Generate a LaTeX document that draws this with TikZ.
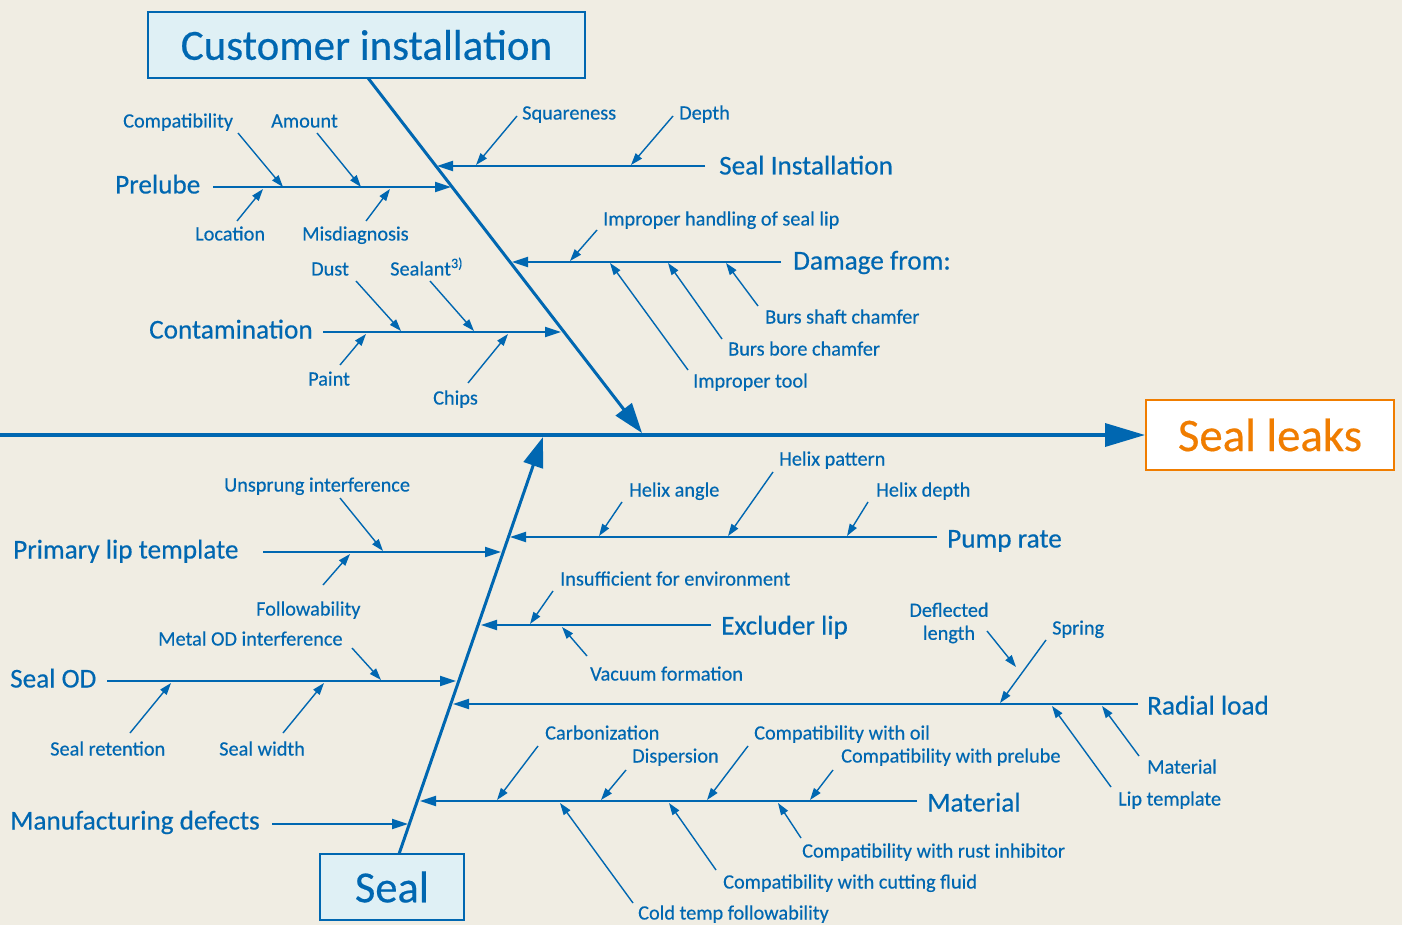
\documentclass[tikz,border=0pt]{standalone}
\usepackage{fontspec}
\setmainfont[FakeBold=0.4]{Carlito}
\usetikzlibrary{arrows.meta}
\definecolor{bg}{RGB}{240,237,227}
\definecolor{skf}{RGB}{0,103,177}
\definecolor{boxfill}{RGB}{223,240,245}
\definecolor{orng}{RGB}{240,125,0}
\newcommand\causearrow[3]{\coordinate (#1-s) at (#2); \coordinate (#1-t) at (#3); \draw[subarrow] (#1-s) -- (#1-t);}
\newcommand\brancharrow[3]{\coordinate (#1-s) at (#2); \coordinate (#1-t) at (#3); \draw[branch] (#1-s) -- (#1-t);}
\begin{document}
\begin{tikzpicture}[x=1pt,y=-1pt,
  lbl/.style={text=skf, inner sep=0pt, font=\fontsize{20.3}{23}\selectfont, anchor=base west},
  mid/.style={text=skf, inner sep=0pt, font=\fontsize{27.2}{30}\selectfont, anchor=base west},
  subarrow/.style={draw=skf, line width=1.4pt, -{Triangle[length=12pt,width=8pt]}},
  branch/.style={draw=skf, line width=2pt, -{Triangle[length=16pt,width=10pt]}},
  diag/.style={draw=skf, line width=3pt, -{Triangle[length=30pt,width=20pt]}},
  spine/.style={draw=skf, line width=3.5pt, -{Triangle[length=40pt,width=23pt]}},
  catbox/.style={draw=skf, line width=2pt, fill=boxfill, text=skf, inner sep=0pt},
]
\fill[bg] (0,0) rectangle (1402,925);
\useasboundingbox (0,0) rectangle (1402,925);

% boxes
\node[catbox, font=\fontsize{43}{46}\selectfont, minimum width=437pt, minimum height=66pt] (ci) at (366.5,45) {Customer installation};
\node[catbox, font=\fontsize{44.5}{48}\selectfont, minimum width=144pt, minimum height=66pt] (seal) at (392,887) {Seal};
\node[draw=orng, line width=2pt, fill=white, text=orng, inner sep=0pt, font=\fontsize{46.8}{50}\selectfont, minimum width=248pt, minimum height=70pt] (leaks) at (1270,435) {Seal leaks};

% spine and diagonals
\coordinate (tail) at (0,435);
\draw[spine] (tail) -- (leaks.west);
\coordinate (ciroot) at (368,78);
\coordinate (citip) at (642,433);
\draw[diag] (ciroot) -- (citip);
\coordinate (sealroot) at (399,854);
\coordinate (sealtip) at (543,437);
\draw[diag] (sealroot) -- (sealtip);

% main branch labels
\node[mid] (prelube) at (115,193.5) {Prelube};
\node[mid] (sealinst) at (719,174.5) {Seal Installation};
\node[mid] (damage) at (793,269.5) {Damage from:};
\node[mid] (contam) at (149,338.5) {Contamination};
\node[mid] (primary) at (13,558.5) {Primary lip template};
\node[mid] (sealod) at (10,687.5) {Seal OD};
\node[mid] (manuf) at (10,829.5) {Manufacturing defects};
\node[mid] (pump) at (947,547.5) {Pump rate};
\node[mid] (excluder) at (721,634.5) {Excluder lip};
\node[mid] (radial) at (1147,714.5) {Radial load};
\node[mid] (material) at (927,811.5) {Material};

% branches
\brancharrow{b-prelube}{213,187}{451,187}
\brancharrow{b-sealinst}{705,166}{437,166}
\brancharrow{b-damage}{781,262}{512,262}
\brancharrow{b-contam}{323,332}{561,332}
\brancharrow{b-primary}{263,552}{501,552}
\brancharrow{b-sealod}{107,681}{456,681}
\brancharrow{b-manuf}{272,824}{408,824}
\brancharrow{b-pump}{937,537}{510,537}
\brancharrow{b-excluder}{711,625}{481,625}
\brancharrow{b-radial}{1138,704}{453,704}
\brancharrow{b-material}{917,801}{420,801}

% small labels
\node[lbl] (compat) at (123,127.5) {Compatibility};
\node[lbl] (amount) at (271,127.5) {Amount};
\node[lbl] (location) at (195,240.5) {Location};
\node[lbl] (misdiag) at (302,240.5) {Misdiagnosis};
\node[lbl] (square) at (522,119.5) {Squareness};
\node[lbl] (depth) at (679,119.5) {Depth};
\node[lbl] (handling) at (603,225.5) {Improper handling of seal lip};
\node[lbl] (bursshaft) at (765,323.5) {Burs shaft chamfer};
\node[lbl] (bursbore) at (728,355.5) {Burs bore chamfer};
\node[lbl] (tool) at (693,387.5) {Improper tool};
\node[lbl] (dust) at (311,275.5) {Dust};
\node[lbl] (sealant) at (390,275.5) {Sealant\textsuperscript{3)}};
\node[lbl] (paint) at (308,385.5) {Paint};
\node[lbl] (chips) at (433,404.5) {Chips};
\node[lbl] (unsprung) at (224,491.5) {Unsprung interference};
\node[lbl] (follow) at (256,615.5) {Followability};
\node[lbl] (metalod) at (158,645.5) {Metal OD interference};
\node[lbl] (retention) at (50,755.5) {Seal retention};
\node[lbl] (width) at (219,755.5) {Seal width};
\node[lbl] (hangle) at (629,496.5) {Helix angle};
\node[lbl] (hpattern) at (779,465.5) {Helix pattern};
\node[lbl] (hdepth) at (876,496.5) {Helix depth};
\node[lbl] (insuff) at (560,585.5) {Insufficient for environment};
\node[lbl] (vacuum) at (590,680.5) {Vacuum formation};
\node[lbl, anchor=center, align=center, font=\fontsize{20.3}{23}\selectfont] (deflected) at (949,623) {Deflected\\length};
\node[lbl] (spring) at (1052,634.5) {Spring};
\node[lbl] (liptemp) at (1118,805.5) {Lip template};
\node[lbl] (matsmall) at (1147,773.5) {Material};
\node[lbl] (carbon) at (545,739.5) {Carbonization};
\node[lbl] (dispersion) at (632,762.5) {Dispersion};
\node[lbl] (compoil) at (754,739.5) {Compatibility with oil};
\node[lbl] (compprelube) at (841,762.5) {Compatibility with prelube};
\node[lbl] (coldtemp) at (638,919.5) {Cold temp followability};
\node[lbl] (cutting) at (723,888.5) {Compatibility with cutting fluid};
\node[lbl] (rust) at (802,857.5) {Compatibility with rust inhibitor};

% sub-cause arrows
\causearrow{a-compat}{238,133}{283,187}
\causearrow{a-amount}{317,133}{361,187}
\causearrow{a-location}{237,221}{263,189}
\causearrow{a-misdiag}{366,221}{390,189}
\causearrow{a-square}{517,116}{476,165}
\causearrow{a-depth}{673,116}{631,165}
\causearrow{a-handling}{597,230}{570,261}
\causearrow{a-bursshaft}{758,306}{726,263}
\causearrow{a-bursbore}{722,339}{668,263}
\causearrow{a-tool}{688,370}{610,263}
\causearrow{a-dust}{356,281}{401,331}
\causearrow{a-sealant}{430,281}{474,331}
\causearrow{a-paint}{340,365}{366,334}
\causearrow{a-chips}{468,383}{508,334}
\causearrow{a-unsprung}{340,498}{383,551}
\causearrow{a-follow}{323,585}{350,554}
\causearrow{a-metalod}{352,648}{381,680}
\causearrow{a-retention}{130,733}{171,683}
\causearrow{a-width}{283,733}{324,683}
\causearrow{a-hangle}{622,502}{599,536}
\causearrow{a-hpattern}{773,472}{728,536}
\causearrow{a-hdepth}{868,502}{847,536}
\causearrow{a-insuff}{553,591}{530,624}
\causearrow{a-vacuum}{587,656}{562,627}
\causearrow{a-deflected}{987,631}{1016,667}
\causearrow{a-spring}{1046,640}{1000,703}
\causearrow{a-liptemp}{1111,787}{1052,706}
\causearrow{a-matsmall}{1139,756}{1102,706}
\causearrow{a-carbon}{538,746}{497,800}
\causearrow{a-dispersion}{626,770}{601,800}
\causearrow{a-compoil}{748,746}{707,800}
\causearrow{a-compprelube}{833,770}{810,800}
\causearrow{a-coldtemp}{633,903}{560,803}
\causearrow{a-cutting}{716,870}{669,803}
\causearrow{a-rust}{801,838}{778,803}
\end{tikzpicture}
\end{document}
